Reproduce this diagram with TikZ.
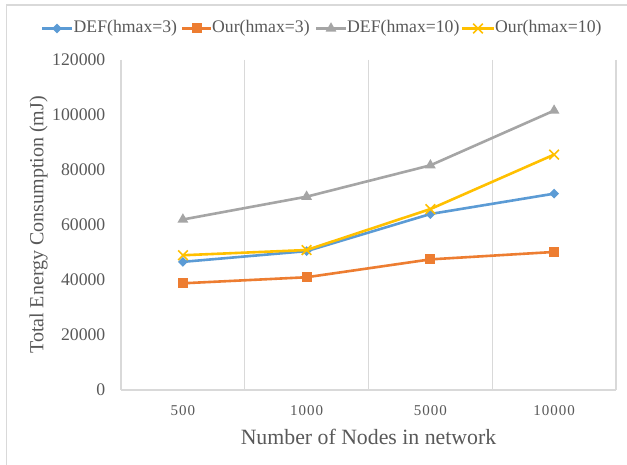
\documentclass[tikz,border=0pt]{standalone}
\usepackage{fontspec}
\setmainfont{Liberation Serif}
\newfontfamily\xtickfont[LetterSpace=7]{Liberation Serif}
\usetikzlibrary{shapes.geometric,shapes.misc,calc}
\definecolor{cblue}{HTML}{5B9BD5}
\definecolor{corange}{HTML}{ED7D31}
\definecolor{cgray}{HTML}{A5A5A5}
\definecolor{cyellow}{HTML}{FFC000}
\definecolor{grid}{HTML}{D9D9D9}
\definecolor{txt}{HTML}{595959}
\tikzset{
  gridline/.style={draw=grid, line width=1.1pt},
  series/.style={line width=2.6pt, line join=round},
  mdiamond/.style={diamond, fill=cblue, inner sep=0pt, minimum size=10pt},
  msquare/.style={rectangle, fill=corange, inner sep=0pt, minimum size=10pt},
  mtri/.style={regular polygon, regular polygon sides=3, fill=cgray, inner sep=0pt, minimum size=12.5pt},
  mcross/.style={cross out, draw=cyellow, line width=1.6pt, inner sep=0pt, minimum size=8pt},
  ytick/.style={anchor=east, text=txt, font=\fontsize{17.7}{20}\selectfont, inner sep=0pt},
  xtick/.style={anchor=center, text=txt, font=\xtickfont\fontsize{15}{17}\selectfont, inner sep=0pt},
  legtext/.style={anchor=west, text=txt, font=\fontsize{17.7}{20}\selectfont, inner sep=0pt},
  title/.style={text=txt, inner sep=0pt}
}
\begin{document}
\begin{tikzpicture}[x=1pt,y=-1pt]
\useasboundingbox (0,0) rectangle (627,465);
\fill[white] (0,0) rectangle (627,465);
% chart border
\draw[gridline] (6.5,465) -- (6.5,5) -- (627,5);
% plot area
\foreach \gx in {121,244.75,368.5,492.25,616} \draw[gridline] (\gx,60) -- (\gx,390);
\draw[gridline] (121,390) -- (616,390);
% y ticks
\foreach \v [count=\i] in {0,20000,40000,60000,80000,100000,120000}
  \node[ytick] (yt\i) at (105.5,{390-(\i-1)*55}) {\v};
% x ticks
\foreach \c [count=\i] in {500,1000,5000,10000}
  \node[xtick] (xt\i) at ({121+(\i-0.5)*123.75},410.5) {\c};
% axis titles
\node[title, font=\fontsize{21.8}{24}\selectfont] (xtitle) at (368.5,436.5) {Number of Nodes in network};
\node[title, font=\fontsize{20}{22}\selectfont, rotate=90] (ytitle) at (38.5,225) {Total Energy Consumption (mJ)};
% data coordinates
\def\X#1{\ifcase#1\or182.9\or306.6\or430.4\or554.1\fi}
\foreach \v [count=\i] in {46.6,50.5,64.0,71.4} \coordinate (b\i) at (\X{\i},{390-\v*2.75});
\foreach \v [count=\i] in {38.8,41.0,47.5,50.2} \coordinate (o\i) at (\X{\i},{390-\v*2.75});
\foreach \v [count=\i] in {62.0,70.3,81.7,101.6} \coordinate (g\i) at (\X{\i},{390-\v*2.75});
\foreach \v [count=\i] in {49.0,50.9,65.8,85.6} \coordinate (y\i) at (\X{\i},{390-\v*2.75});
% series
\draw[series, cblue] (b1) -- (b2) -- (b3) -- (b4);
\foreach \i in {1,...,4} \node[mdiamond] (bm\i) at (b\i) {};
\draw[series, corange] (o1) -- (o2) -- (o3) -- (o4);
\foreach \i in {1,...,4} \node[msquare] (om\i) at (o\i) {};
\draw[series, cgray] (g1) -- (g2) -- (g3) -- (g4);
\foreach \i in {1,...,4} \node[mtri] (gm\i) at (g\i) {};
\draw[series, cyellow] (y1) -- (y2) -- (y3) -- (y4);
\foreach \i in {1,...,4} \node[mcross] (ym\i) at (y\i) {};
% legend
\coordinate (l1a) at (42,28.5); \coordinate (l1b) at (72,28.5);
\coordinate (l2a) at (182,28.5); \coordinate (l2b) at (211,28.5);
\coordinate (l3a) at (316,28.5); \coordinate (l3b) at (346,28.5);
\coordinate (l4a) at (462,28.5); \coordinate (l4b) at (494,28.5);
\draw[series, cblue] (l1a) -- (l1b);
\node[mdiamond] (lm1) at ($(l1a)!0.5!(l1b)$) {};
\draw[series, corange] (l2a) -- (l2b);
\node[msquare] (lm2) at ($(l2a)!0.5!(l2b)$) {};
\draw[series, cgray] (l3a) -- (l3b);
\node[mtri] (lm3) at ($(l3a)!0.5!(l3b)$) {};
\draw[series, cyellow] (l4a) -- (l4b);
\node[mcross] (lm4) at ($(l4a)!0.5!(l4b)$) {};
\node[legtext] (lt1) at (73.5,28.5) {DEF(hmax=3)};
\node[legtext] (lt2) at (212,28.5) {Our(hmax=3)};
\node[legtext] (lt3) at (347,28.5) {DEF(hmax=10)};
\node[legtext] (lt4) at (495,28.5) {Our(hmax=10)};
\end{tikzpicture}
\end{document}
